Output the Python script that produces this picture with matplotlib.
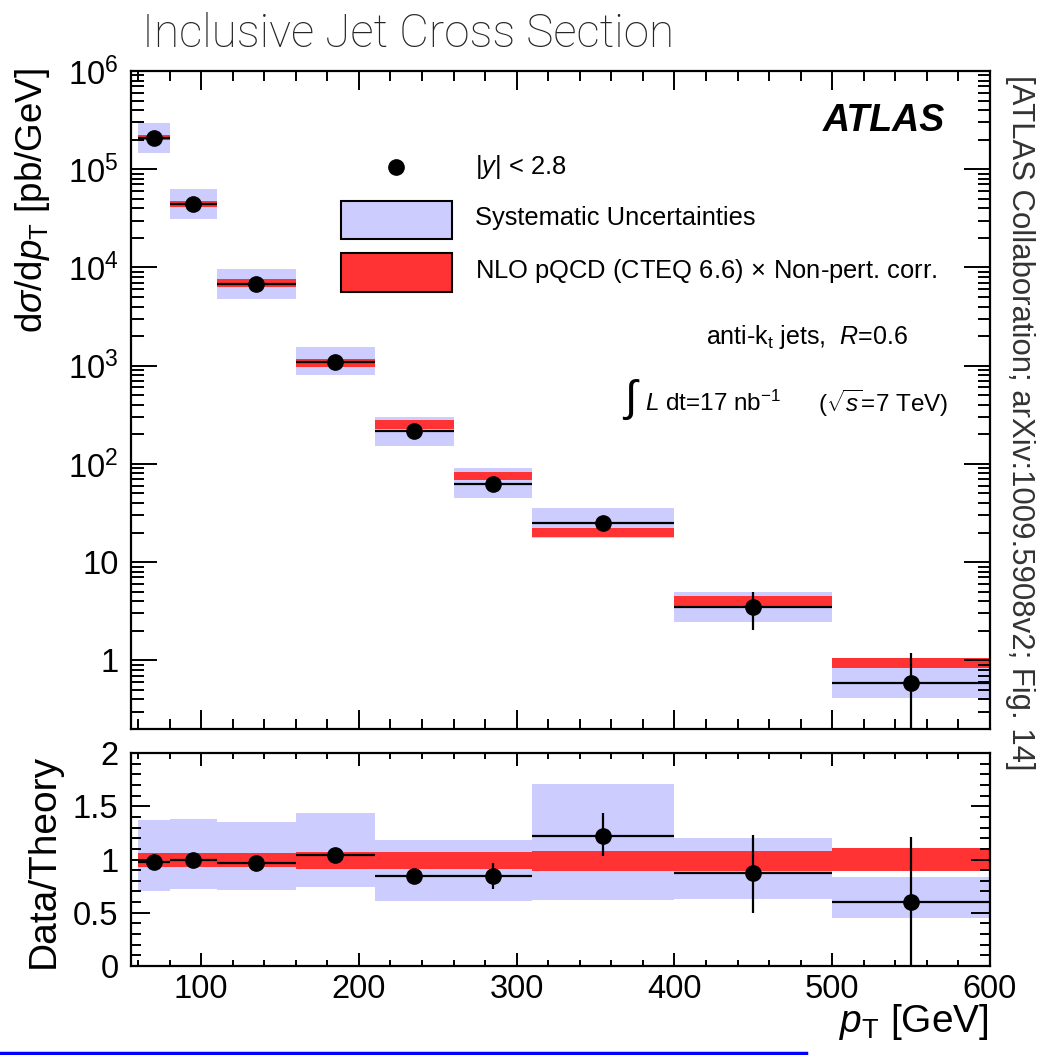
import numpy as np
import matplotlib
matplotlib.use('Agg')
import matplotlib.pyplot as plt
from matplotlib.patches import Rectangle
from matplotlib.lines import Line2D
from matplotlib.ticker import MultipleLocator, LogLocator, FuncFormatter, NullFormatter

# --- data ---
bin_edges = [60, 80, 110, 160, 210, 260, 310, 400, 500, 600]
pt_centres = [70, 95, 135, 185, 235, 285, 355, 450, 550]

xsec = [2.07e5, 4.4e4, 6.8e3, 1.1e3, 214, 63, 24.9, 3.49, 0.59]
xsec_stat_lo = [2e3, 5e2, 60, 15, 6, 5, 3.9, 1.45, 0.58]
xsec_stat_hi = [2e3, 5e2, 60, 15, 6, 5, 4.5, 1.47, 0.60]
xsec_sys_lo = [1.45e5, 3.1e4, 4.79e3, 811, 151, 45, 17.5, 2.46, 0.416]
xsec_sys_hi = [2.93e5, 6.27e4, 9.66e3, 1.56e3, 303, 90, 35.3, 4.96, 1.06]
nlo_lo = [1.97e5, 4.1e4, 6.34e3, 977, 229, 68, 18.0, 3.49, 0.84]
nlo_hi = [2.21e5, 4.73e4, 7.64e3, 1.18e3, 277, 82, 22.1, 4.52, 1.06]

ratio = [0.98, 1.00, 0.97, 1.04, 0.845, 0.845, 1.22, 0.87, 0.60]
ratio_stat_lo = [0.02, 0.02, 0.02, 0.03, 0.05, 0.12, 0.19, 0.37, 0.65]
ratio_stat_hi = [0.02, 0.02, 0.02, 0.03, 0.05, 0.12, 0.22, 0.36, 0.61]
ratio_sys_lo = [0.707, 0.72, 0.71, 0.745, 0.61, 0.61, 0.62, 0.63, 0.45]
ratio_sys_hi = [1.37, 1.38, 1.35, 1.44, 1.18, 1.18, 1.706, 1.20, 0.84]
nlo_ratio_lo = [0.93, 0.93, 0.93, 0.91, 0.91, 0.91, 0.895, 0.895, 0.895]
nlo_ratio_hi = [1.06, 1.06, 1.06, 1.07, 1.07, 1.07, 1.08, 1.08, 1.105]

LAVENDER = '#ccccff'
RED = '#ff3333'

plt.rcParams['font.family'] = ['Liberation Sans', 'DejaVu Sans']
plt.rcParams['mathtext.fontset'] = 'custom'
plt.rcParams['mathtext.rm'] = 'Liberation Sans'
plt.rcParams['mathtext.it'] = 'Liberation Sans:italic'
plt.rcParams['mathtext.bf'] = 'Liberation Sans:bold'
plt.rcParams['axes.linewidth'] = 1.6

W, H = 1037, 1055
fig = plt.figure(figsize=(W / 100, H / 100), dpi=100)


def fx(x):
    return x / W


def fy(y):
    return 1 - y / H


ax = fig.add_axes([fx(131), fy(729), fx(990) - fx(131), fy(71) - fy(729)])
axr = fig.add_axes([fx(131), fy(966), fx(990) - fx(131), fy(753) - fy(966)])

edges = np.array(bin_edges, dtype=float)
left = edges[:-1]
width = np.diff(edges)

# top panel: cross section
ax.set_yscale('log')
ax.bar(left, np.array(xsec_sys_hi) - np.array(xsec_sys_lo), width=width,
       bottom=xsec_sys_lo, align='edge', color=LAVENDER, lw=0, zorder=1)
ax.bar(left, np.array(nlo_hi) - np.array(nlo_lo), width=width,
       bottom=nlo_lo, align='edge', color=RED, lw=0, zorder=2)
ax.errorbar(pt_centres, xsec, xerr=width / 2, yerr=[xsec_stat_lo, xsec_stat_hi],
            fmt='o', color='k', ms=11, elinewidth=1.6, capsize=0, zorder=3)
ax.set_xlim(55.6, 600)
ax.set_ylim(0.2, 1e6)


def logfmt(v, pos):
    e = int(round(np.log10(v)))
    if e >= 2:
        return r'$10^{%d}$' % e
    return '10' if e == 1 else '1'


ax.yaxis.set_major_locator(LogLocator(base=10, numticks=20))
ax.yaxis.set_minor_locator(LogLocator(base=10, subs=np.arange(2, 10), numticks=20))
ax.yaxis.set_major_formatter(FuncFormatter(logfmt))
ax.yaxis.set_minor_formatter(NullFormatter())

# bottom panel: data / theory
axr.bar(left, np.array(ratio_sys_hi) - np.array(ratio_sys_lo), width=width,
        bottom=ratio_sys_lo, align='edge', color=LAVENDER, lw=0, zorder=1)
axr.bar(left, np.array(nlo_ratio_hi) - np.array(nlo_ratio_lo), width=width,
        bottom=nlo_ratio_lo, align='edge', color=RED, lw=0, zorder=2)
axr.errorbar(pt_centres, ratio, xerr=width / 2, yerr=[ratio_stat_lo, ratio_stat_hi],
             fmt='o', color='k', ms=11, elinewidth=1.6, capsize=0, zorder=3)
axr.set_xlim(55.6, 600)
axr.set_ylim(0, 2)
axr.yaxis.set_major_locator(MultipleLocator(0.5))
axr.yaxis.set_minor_locator(MultipleLocator(0.1))
axr.yaxis.set_major_formatter(FuncFormatter(lambda v, p: '%g' % v))

for a in (ax, axr):
    a.xaxis.set_major_locator(MultipleLocator(100))
    a.xaxis.set_minor_locator(MultipleLocator(20))
    a.tick_params(which='both', direction='in', top=True, right=True,
                  width=1.4, labelsize=23.5)
    a.set_axisbelow(False)

ax.tick_params(axis='x', which='major', length=13.5, labelbottom=False)
ax.tick_params(axis='x', which='minor', length=7)
ax.tick_params(axis='y', which='major', length=19, pad=9)
ax.tick_params(axis='y', which='minor', length=9)
axr.tick_params(axis='x', which='major', length=9.5, pad=6)
axr.tick_params(axis='x', which='minor', length=4.5)
axr.tick_params(axis='y', which='major', length=14, pad=9)
axr.tick_params(axis='y', which='minor', length=7)

# axis titles
fig.text(fx(33), fy(68), r'd$\sigma$/d$p_{\rm T}$ [pb/GeV]', rotation=90,
         ha='center', va='top', fontsize=26.5)
fig.text(fx(44), fy(861), 'Data/Theory', rotation=90, ha='center',
         va='center', fontsize=28)
fig.text(fx(989), fy(1022), r'$p_{\rm T}$ [GeV]', ha='right', va='center',
         fontsize=28)

# title and side note
fig.text(fx(142), fy(47), 'Inclusive Jet Cross Section', ha='left',
         va='baseline', fontsize=33, color='#262626',
         family=['Roboto', 'Liberation Sans'], fontweight='light')
fig.text(fx(1020), fy(75), '[ATLAS Collaboration; arXiv:1009.5908v2; Fig. 14]',
         rotation=-90, ha='center', va='top', fontsize=22.4, color='#333333')

# labels inside the top panel
fig.text(fx(945), fy(121), 'ATLAS', ha='right', va='center', fontsize=27,
         fontweight='bold', fontstyle='italic')
fig.text(fx(908), fy(337), r'anti-k$_{\rm t}$ jets,  $R$=0.6', ha='right',
         va='center', fontsize=18)
fig.text(fx(622), fy(400), r'$\int$', ha='left', va='center', fontsize=32,
         family='DejaVu Sans')
fig.text(fx(645), fy(403), r'$L$ dt=17 nb$^{-1}$', ha='left', va='center',
         fontsize=17.5)
fig.text(fx(948), fy(403), r'($\sqrt{s}$=7 TeV)', ha='right', va='center',
         fontsize=17.5)

# legend drawn by hand, ROOT style
fig.add_artist(Line2D([fx(396)], [fy(167)], marker='o', ms=11, color='k',
                      transform=fig.transFigure))
fig.add_artist(Rectangle((fx(341), fy(239)), fx(452) - fx(341), fy(201) - fy(239),
                         transform=fig.transFigure, facecolor=LAVENDER,
                         edgecolor='k', lw=1.5))
fig.add_artist(Rectangle((fx(341), fy(292)), fx(452) - fx(341), fy(253) - fy(292),
                         transform=fig.transFigure, facecolor=RED,
                         edgecolor='k', lw=1.5))
fig.text(fx(475), fy(167), r'$|y|$ < 2.8', ha='left', va='center', fontsize=18.4)
fig.text(fx(475), fy(218), 'Systematic Uncertainties', ha='left', va='center',
         fontsize=18.4)
fig.text(fx(475), fy(271), r'NLO pQCD (CTEQ 6.6)$\,\times\,$Non-pert. corr.',
         ha='left', va='center', fontsize=18.4)

# underline at the very bottom of the screenshot
fig.add_artist(Line2D([0, fx(806)], [fy(1053), fy(1053)], color='#0000ff',
                      lw=2.5, transform=fig.transFigure))

fig.savefig('out.png', dpi=100)
